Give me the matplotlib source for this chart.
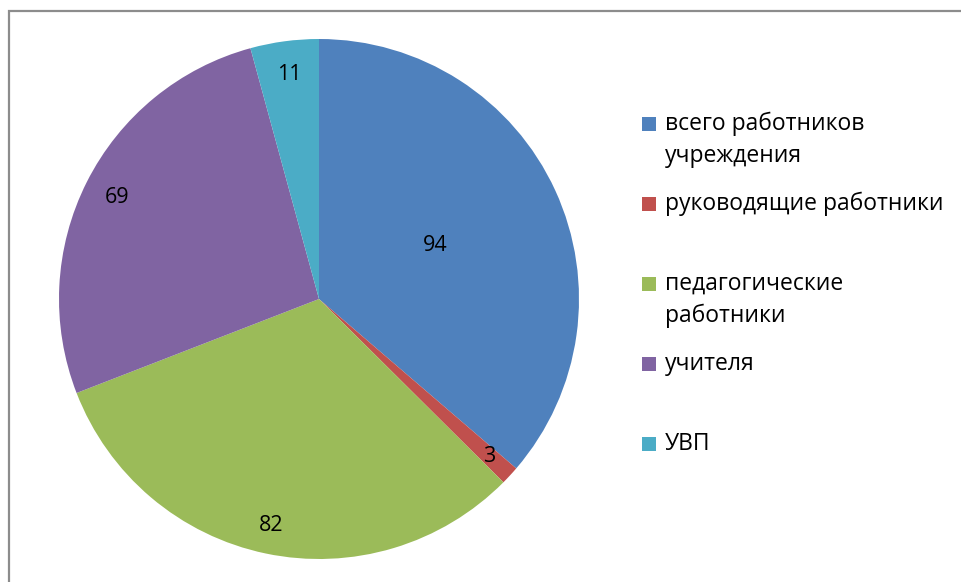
import matplotlib
matplotlib.use("Agg")
import matplotlib.pyplot as plt
from matplotlib.patches import Rectangle
import numpy as np

categories = ["всего работников\nучреждения", "руководящие работники",
              "педагогические\nработники", "учителя", "УВП"]
values = [94, 3, 82, 69, 11]
colors = ["#4F81BD", "#C0504D", "#9BBB59", "#8064A2", "#4BACC6"]
label_dist = [0.49, 0.89, 0.89, 0.87, 0.87]

W, H = 961, 582
fig = plt.figure(figsize=(W / 100, H / 100), dpi=100)
plt.rcParams['font.family'] = ['Open Sans', 'DejaVu Sans']

# border
fig.patches.append(Rectangle((8.5 / W, -0.1), 1.2, 1.1 - 10.5 / H,
                             transform=fig.transFigure, fill=False,
                             edgecolor="#8c8c8c", linewidth=1.6))

cx, cy, R = 319, 299, 260
ax = fig.add_axes([(cx - R) / W, (H - cy - R) / H, 2 * R / W, 2 * R / H])
wedges, _ = ax.pie(values, colors=colors, startangle=90, counterclock=False,
                   radius=1.0, wedgeprops=dict(linewidth=0))
total = sum(values)
start = 90.0
for v, d in zip(values, label_dist):
    ang = start - v / total * 360 / 2
    x, y = d * np.cos(np.radians(ang)), d * np.sin(np.radians(ang))
    ax.text(x, y, str(v), ha='center', va='center', fontsize=15.5, color='black')
    start -= v / total * 360
ax.set_xlim(-1, 1)
ax.set_ylim(-1, 1)
ax.set_aspect('equal')
ax.axis('off')

# legend (manual)
y0, dy, line_h = 124, 80, 32
for i, (lab, c) in enumerate(zip(categories, colors)):
    yc = y0 + dy * i
    fig.patches.append(Rectangle((642 / W, 1 - (yc + 7) / H), 14 / W, 14 / H,
                                 transform=fig.transFigure, facecolor=c,
                                 edgecolor='none'))
    for j, line in enumerate(lab.split("\n")):
        fig.text(665 / W, 1 - (yc + j * line_h) / H, line, ha='left',
                 va='center', fontsize=16.5, color='black')

fig.savefig("out.png", dpi=100)
